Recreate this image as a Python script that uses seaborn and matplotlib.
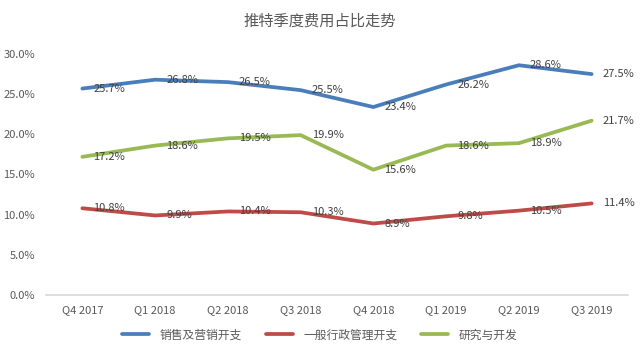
import pandas as pd
import numpy as np
import matplotlib
matplotlib.use('Agg')
import matplotlib.pyplot as plt
import seaborn as sns
from matplotlib.ticker import PercentFormatter

quarters = ['Q4 2017', 'Q1 2018', 'Q2 2018', 'Q3 2018', 'Q4 2018', 'Q1 2019', 'Q2 2019', 'Q3 2019']
sales_marketing = [25.7, 26.8, 26.5, 25.5, 23.4, 26.2, 28.6, 27.5]
general_admin = [10.8, 9.9, 10.4, 10.3, 8.9, 9.8, 10.5, 11.4]
research_dev = [17.2, 18.6, 19.5, 19.9, 15.6, 18.6, 18.9, 21.7]
series_names = ['销售及营销开支', '一般行政管理开支', '研究与开发']
colors = ['#4A7EBB', '#BE4B48', '#98B954']

rows = []
for name, vals in zip(series_names, [sales_marketing, general_admin, research_dev]):
    for i, v in enumerate(vals):
        rows.append({'idx': i, 'quarter': quarters[i], 'value': v, 'series': name})
df = pd.DataFrame(rows)

sns.set_theme(style='white')
plt.rcParams['font.family'] = ['Noto Sans CJK SC', 'DejaVu Sans']

fig = plt.figure(figsize=(6.4, 3.52), dpi=100)
ax = fig.add_axes([46 / 640, 57 / 352, 582 / 640, 241 / 352])

sns.lineplot(data=df, x='idx', y='value', hue='series', palette=colors,
             hue_order=series_names, linewidth=2.7, sort=False, ax=ax, legend=True)

for _, r in df.iterrows():
    ax.annotate(f"{r['value']:.1f}%", (r['idx'], r['value']), xytext=(8, 0),
                textcoords='offset points', ha='left', va='center',
                fontsize=8, color='#404040')

ax.set_xlim(-0.5, 7.5)
ax.set_ylim(0, 30)
ax.set_yticks(np.arange(0, 31, 5))
ax.yaxis.set_major_formatter(PercentFormatter(decimals=1))
ax.set_xticks(range(len(quarters)))
ax.set_xticklabels(quarters)
ax.tick_params(axis='both', labelsize=8, colors='#595959', length=0)
ax.tick_params(axis='x', pad=7)
ax.tick_params(axis='y', pad=8)
ax.set_xlabel('')
ax.set_ylabel('')
for s in ['top', 'right', 'left']:
    ax.spines[s].set_visible(False)
ax.spines['bottom'].set_color('#D9D9D9')
ax.grid(False)

handles, labels = ax.get_legend_handles_labels()
ax.get_legend().remove()
fig.legend(handles, labels, loc='lower center', bbox_to_anchor=(0.5, 0.0), ncol=3,
           frameon=False, fontsize=8.5, handlelength=2.3, handletextpad=0.9,
           columnspacing=2.0, labelcolor='#595959')

fig.suptitle('推特季度费用占比走势', y=0.965, fontsize=11, color='#595959')

plt.savefig('out.png', dpi=100)
